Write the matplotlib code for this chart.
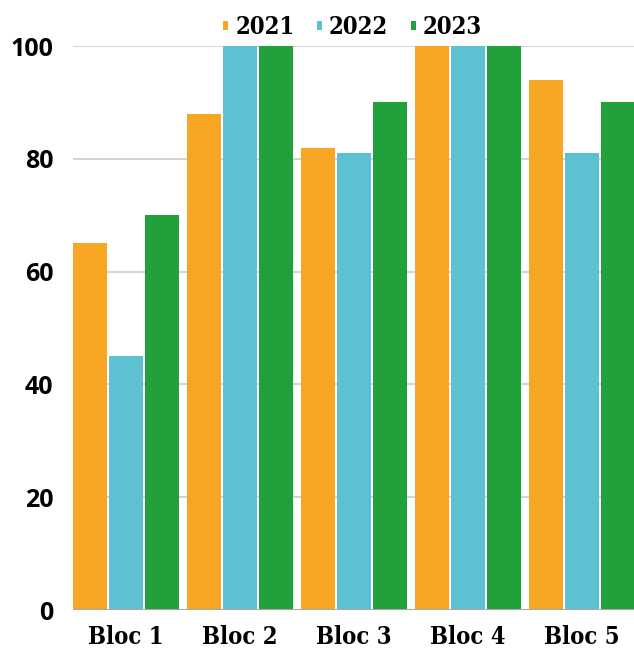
import numpy as np
import matplotlib
matplotlib.use("Agg")
import matplotlib.pyplot as plt

categories = ["Bloc 1", "Bloc 2", "Bloc 3", "Bloc 4", "Bloc 5"]
years = ["2021", "2022", "2023"]
v2021 = [65, 88, 82, 100, 94]
v2022 = [45, 100, 81, 100, 81]
v2023 = [70, 100, 90, 100, 90]
colors = ["#F6A623", "#5EC1D1", "#21A03B"]

fig = plt.figure(figsize=(6.34, 6.48), dpi=100)
ax = fig.add_axes([73 / 634, 38 / 648, 566 / 634, 564 / 648])

x = np.arange(len(categories))
w = 0.298
step = 0.316
for i, (vals, c, lab) in enumerate(zip([v2021, v2022, v2023], colors, years)):
    ax.bar(x + (i - 1) * step, vals, width=w, color=c, label=lab, zorder=3)

ax.set_xlim(-0.465, 4.5)
ax.set_ylim(0, 100)
ax.set_yticks([0, 20, 40, 60, 80, 100])
ax.yaxis.grid(True, color="#cccccc", linewidth=1.2, zorder=0)
ax.axhline(0, color="#aaaaaa", linewidth=1.5, zorder=4)
for s in ax.spines.values():
    s.set_visible(False)
ax.tick_params(length=0)
ax.tick_params(axis="y", pad=14)
ax.tick_params(axis="x", pad=11)
ax.set_xticks(x)
ax.set_xticklabels(categories, fontsize=17, fontweight="bold",
                   family="DejaVu Serif", fontstretch="condensed")
for t in ax.get_yticklabels():
    t.set_fontsize(18)
    t.set_fontweight("bold")
    t.set_family("Open Sans")

fig.legend(loc="center", bbox_to_anchor=(352.5 / 634, 1 - 27 / 648), ncol=3,
           frameon=False, handlelength=0.22, handleheight=0.22,
           handletextpad=0.3, columnspacing=0.95,
           prop={"family": "DejaVu Serif", "weight": "bold", "size": 17,
                 "stretch": "condensed"})

fig.savefig("out.png", dpi=100)
